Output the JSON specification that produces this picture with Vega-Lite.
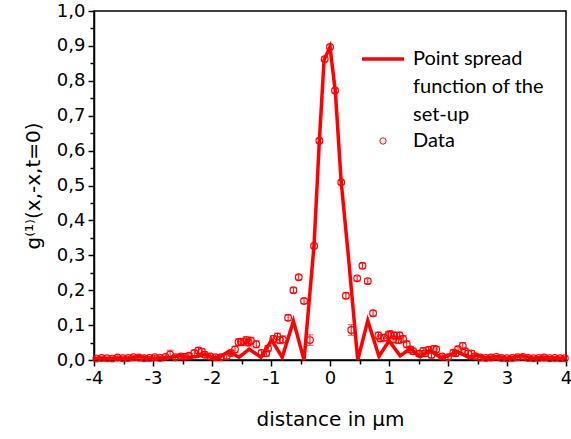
{
  "$schema": "https://vega.github.io/schema/vega-lite/v6.json",
  "width": 472,
  "height": 349,
  "autosize": {"type": "none"},
  "padding": {"left": 94, "top": 11, "right": 5, "bottom": 79},
  "background": "white",
  "config": {
    "view": {"stroke": "black", "strokeWidth": 1.5},
    "axis": {
      "grid": false,
      "domainColor": "black",
      "domainWidth": 1.5,
      "tickColor": "black",
      "tickWidth": 1.5,
      "labelFont": "DejaVu Sans",
      "labelFontSize": 18,
      "labelColor": "black",
      "labelOverlap": false,
      "titleFont": "DejaVu Sans",
      "titleFontWeight": "normal",
      "titleColor": "black"
    }
  },
  "datasets": {
    "psf": [
      {"x": -4.0, "y": 0.005}, {"x": -3.8, "y": 0.004}, {"x": -3.6, "y": 0.006}, {"x": -3.4, "y": 0.005},
      {"x": -3.22, "y": 0.01}, {"x": -3.05, "y": 0.005}, {"x": -2.85, "y": 0.006}, {"x": -2.7, "y": 0.008},
      {"x": -2.54, "y": 0.013}, {"x": -2.4, "y": 0.007}, {"x": -2.25, "y": 0.01}, {"x": -2.12, "y": 0.016},
      {"x": -1.98, "y": 0.006}, {"x": -1.88, "y": 0.008}, {"x": -1.72, "y": 0.024}, {"x": -1.54, "y": 0.008},
      {"x": -1.37, "y": 0.031}, {"x": -1.17, "y": 0.008}, {"x": -0.99, "y": 0.057}, {"x": -0.81, "y": 0.008},
      {"x": -0.62, "y": 0.112}, {"x": -0.44, "y": 0.0}, {"x": -0.27, "y": 0.33}, {"x": -0.18, "y": 0.63},
      {"x": -0.1, "y": 0.86}, {"x": 0.0, "y": 0.897}, {"x": 0.09, "y": 0.77}, {"x": 0.19, "y": 0.51},
      {"x": 0.31, "y": 0.3}, {"x": 0.47, "y": 0.0}, {"x": 0.64, "y": 0.113}, {"x": 0.83, "y": 0.01},
      {"x": 1.0, "y": 0.055}, {"x": 1.19, "y": 0.012}, {"x": 1.36, "y": 0.033}, {"x": 1.53, "y": 0.009},
      {"x": 1.69, "y": 0.027}, {"x": 1.88, "y": 0.007}, {"x": 2.0, "y": 0.012}, {"x": 2.15, "y": 0.024},
      {"x": 2.37, "y": 0.006}, {"x": 2.49, "y": 0.014}, {"x": 2.62, "y": 0.006}, {"x": 2.83, "y": 0.01},
      {"x": 3.0, "y": 0.005}, {"x": 3.25, "y": 0.012}, {"x": 3.45, "y": 0.005}, {"x": 3.6, "y": 0.008},
      {"x": 3.8, "y": 0.005}, {"x": 4.0, "y": 0.006}
    ],
    "meas": [
      {"x": -3.96, "y": 0.004, "e": 0.004}, {"x": -3.87, "y": 0.006, "e": 0.004}, {"x": -3.78, "y": 0.005, "e": 0.004},
      {"x": -3.69, "y": 0.004, "e": 0.004}, {"x": -3.6, "y": 0.007, "e": 0.005}, {"x": -3.51, "y": 0.005, "e": 0.004},
      {"x": -3.42, "y": 0.006, "e": 0.005}, {"x": -3.33, "y": 0.008, "e": 0.005}, {"x": -3.24, "y": 0.007, "e": 0.005},
      {"x": -3.15, "y": 0.005, "e": 0.004}, {"x": -3.06, "y": 0.006, "e": 0.005}, {"x": -2.97, "y": 0.008, "e": 0.005},
      {"x": -2.88, "y": 0.006, "e": 0.005}, {"x": -2.79, "y": 0.009, "e": 0.006}, {"x": -2.71, "y": 0.016, "e": 0.012},
      {"x": -2.62, "y": 0.008, "e": 0.006}, {"x": -2.53, "y": 0.01, "e": 0.006}, {"x": -2.46, "y": 0.009, "e": 0.006},
      {"x": -2.39, "y": 0.012, "e": 0.007}, {"x": -2.3, "y": 0.02, "e": 0.008}, {"x": -2.23, "y": 0.027, "e": 0.009},
      {"x": -2.17, "y": 0.024, "e": 0.008}, {"x": -2.12, "y": 0.015, "e": 0.008}, {"x": -2.03, "y": 0.01, "e": 0.007},
      {"x": -1.94, "y": 0.008, "e": 0.006}, {"x": -1.85, "y": 0.008, "e": 0.006}, {"x": -1.75, "y": 0.011, "e": 0.007},
      {"x": -1.68, "y": 0.02, "e": 0.008}, {"x": -1.61, "y": 0.03, "e": 0.009}, {"x": -1.55, "y": 0.051, "e": 0.01},
      {"x": -1.51, "y": 0.052, "e": 0.01}, {"x": -1.47, "y": 0.052, "e": 0.01}, {"x": -1.42, "y": 0.057, "e": 0.01},
      {"x": -1.38, "y": 0.05, "e": 0.01}, {"x": -1.34, "y": 0.055, "e": 0.01}, {"x": -1.25, "y": 0.045, "e": 0.01},
      {"x": -1.16, "y": 0.02, "e": 0.008}, {"x": -1.08, "y": 0.019, "e": 0.008}, {"x": -1.05, "y": 0.033, "e": 0.009},
      {"x": -0.96, "y": 0.06, "e": 0.01}, {"x": -0.89, "y": 0.067, "e": 0.01}, {"x": -0.85, "y": 0.057, "e": 0.01},
      {"x": -0.8, "y": 0.059, "e": 0.01}, {"x": -0.71, "y": 0.121, "e": 0.008}, {"x": -0.62, "y": 0.2, "e": 0.007},
      {"x": -0.53, "y": 0.237, "e": 0.007}, {"x": -0.44, "y": 0.169, "e": 0.007}, {"x": -0.34, "y": 0.057, "e": 0.015},
      {"x": -0.27, "y": 0.327, "e": 0.006}, {"x": -0.18, "y": 0.628, "e": 0.006}, {"x": -0.09, "y": 0.862, "e": 0.006},
      {"x": 0.0, "y": 0.897, "e": 0.006}, {"x": 0.085, "y": 0.772, "e": 0.006}, {"x": 0.19, "y": 0.509, "e": 0.006},
      {"x": 0.27, "y": 0.184, "e": 0.008}, {"x": 0.36, "y": 0.086, "e": 0.015}, {"x": 0.46, "y": 0.234, "e": 0.007},
      {"x": 0.55, "y": 0.27, "e": 0.007}, {"x": 0.64, "y": 0.226, "e": 0.007}, {"x": 0.73, "y": 0.134, "e": 0.008},
      {"x": 0.82, "y": 0.07, "e": 0.01}, {"x": 0.85, "y": 0.062, "e": 0.01}, {"x": 0.92, "y": 0.064, "e": 0.01},
      {"x": 0.99, "y": 0.072, "e": 0.01}, {"x": 1.02, "y": 0.074, "e": 0.01}, {"x": 1.07, "y": 0.059, "e": 0.01},
      {"x": 1.09, "y": 0.07, "e": 0.01}, {"x": 1.16, "y": 0.057, "e": 0.01}, {"x": 1.18, "y": 0.07, "e": 0.01},
      {"x": 1.24, "y": 0.06, "e": 0.01}, {"x": 1.3, "y": 0.045, "e": 0.01}, {"x": 1.36, "y": 0.03, "e": 0.009},
      {"x": 1.41, "y": 0.025, "e": 0.009}, {"x": 1.51, "y": 0.018, "e": 0.008}, {"x": 1.58, "y": 0.026, "e": 0.009},
      {"x": 1.61, "y": 0.019, "e": 0.008}, {"x": 1.67, "y": 0.029, "e": 0.009}, {"x": 1.72, "y": 0.014, "e": 0.008},
      {"x": 1.76, "y": 0.032, "e": 0.009}, {"x": 1.8, "y": 0.03, "e": 0.009}, {"x": 1.9, "y": 0.01, "e": 0.007},
      {"x": 2.0, "y": 0.008, "e": 0.006}, {"x": 2.09, "y": 0.021, "e": 0.008}, {"x": 2.13, "y": 0.019, "e": 0.008},
      {"x": 2.17, "y": 0.031, "e": 0.009}, {"x": 2.25, "y": 0.04, "e": 0.01}, {"x": 2.29, "y": 0.025, "e": 0.009},
      {"x": 2.34, "y": 0.019, "e": 0.008}, {"x": 2.4, "y": 0.019, "e": 0.008}, {"x": 2.46, "y": 0.011, "e": 0.007},
      {"x": 2.55, "y": 0.007, "e": 0.005}, {"x": 2.64, "y": 0.006, "e": 0.005}, {"x": 2.73, "y": 0.007, "e": 0.005},
      {"x": 2.82, "y": 0.009, "e": 0.005}, {"x": 2.91, "y": 0.006, "e": 0.005}, {"x": 3.0, "y": 0.005, "e": 0.004},
      {"x": 3.09, "y": 0.006, "e": 0.004}, {"x": 3.18, "y": 0.008, "e": 0.005}, {"x": 3.27, "y": 0.009, "e": 0.005},
      {"x": 3.36, "y": 0.006, "e": 0.004}, {"x": 3.45, "y": 0.005, "e": 0.004}, {"x": 3.54, "y": 0.006, "e": 0.004},
      {"x": 3.63, "y": 0.007, "e": 0.005}, {"x": 3.72, "y": 0.005, "e": 0.004}, {"x": 3.81, "y": 0.006, "e": 0.004},
      {"x": 3.9, "y": 0.005, "e": 0.004}, {"x": 3.98, "y": 0.005, "e": 0.004}
    ]
  },
  "encoding": {
    "x": {
      "field": "x", "type": "quantitative",
      "scale": {"domain": [-4, 4], "nice": false, "zero": false},
      "axis": {
        "title": "distance in µm",
        "titleFontSize": 20,
        "titlePadding": 22,
        "values": [-4, -3.5, -3, -2.5, -2, -1.5, -1, -0.5, 0, 0.5, 1, 1.5, 2, 2.5, 3, 3.5, 4],
        "labelExpr": "datum.value % 1 == 0 ? '' + datum.value : ''",
        "tickSize": {"condition": {"test": "datum.value % 1 == 0", "value": 6}, "value": 4},
        "labelPadding": 3,
        "labelFlush": false
      }
    },
    "y": {
      "field": "y", "type": "quantitative",
      "scale": {"domain": [0, 1], "nice": false},
      "axis": {
        "title": "g⁽¹⁾(x,-x,t=0)",
        "titleFontSize": 20,
        "titlePadding": 13,
        "values": [0, 0.05, 0.1, 0.15, 0.2, 0.25, 0.3, 0.35, 0.4, 0.45, 0.5, 0.55, 0.6, 0.65, 0.7, 0.75, 0.8, 0.85, 0.9, 0.95, 1.0],
        "labelExpr": "round(datum.value * 20) % 2 == 0 ? replace(format(datum.value, '.1f'), '.', ',') : ''",
        "tickSize": {"condition": {"test": "round(datum.value * 20) % 2 == 0", "value": 6}, "value": 4},
        "labelPadding": 3,
        "labelFlush": false
      }
    }
  },
  "layer": [
    {
      "data": {"name": "psf"},
      "mark": {"type": "line", "strokeWidth": 3.5, "color": "#ff0000"},
      "encoding": {
        "color": {
          "datum": "Point spread function of the set-up",
          "type": "nominal",
          "scale": {"domain": ["Point spread function of the set-up", "Data"], "range": ["#ff0000", "#ff0000"]},
          "legend": {
            "title": null,
            "orient": "none",
            "legendX": 279,
            "legendY": 38,
            "padding": 0,
            "labelFont": "Lato",
            "labelFontSize": 20,
            "labelColor": "black",
            "labelLimit": 300,
            "labelOffset": 20,
            "rowPadding": 6,
            "symbolSize": 1764,
            "symbolType": "stroke",
            "symbolStrokeWidth": 3.5,
            "labelExpr": "datum.value == 'Data' ? 'Data' : ['Point spread', 'function of the', 'set-up']",
            "encode": {
              "symbols": {
                "update": {
                  "shape": {"signal": "datum.value == 'Data' ? 'circle' : 'stroke'"},
                  "size": {"signal": "datum.value == 'Data' ? 40 : 1764"},
                  "strokeWidth": {"signal": "datum.value == 'Data' ? 1 : 3.5"},
                  "stroke": {"value": "#ff0000"},
                  "fill": {"value": "transparent"}
                }
              },
              "labels": {"update": {"lineHeight": {"value": 28}}}
            }
          }
        }
      }
    },
    {
      "data": {"name": "meas"},
      "mark": {"type": "errorbar", "color": "#ff0000", "clip": true, "ticks": {"size": 7, "color": "#ff0000"}, "rule": {"strokeWidth": 1}},
      "encoding": {
        "yError": {"field": "e"}
      }
    },
    {
      "data": {"name": "meas"},
      "mark": {"type": "point", "shape": "circle", "filled": false, "size": 45, "strokeWidth": 1.2, "opacity": 1},
      "encoding": {
        "color": {
          "datum": "Data",
          "type": "nominal"
        }
      }
    }
  ]
}
